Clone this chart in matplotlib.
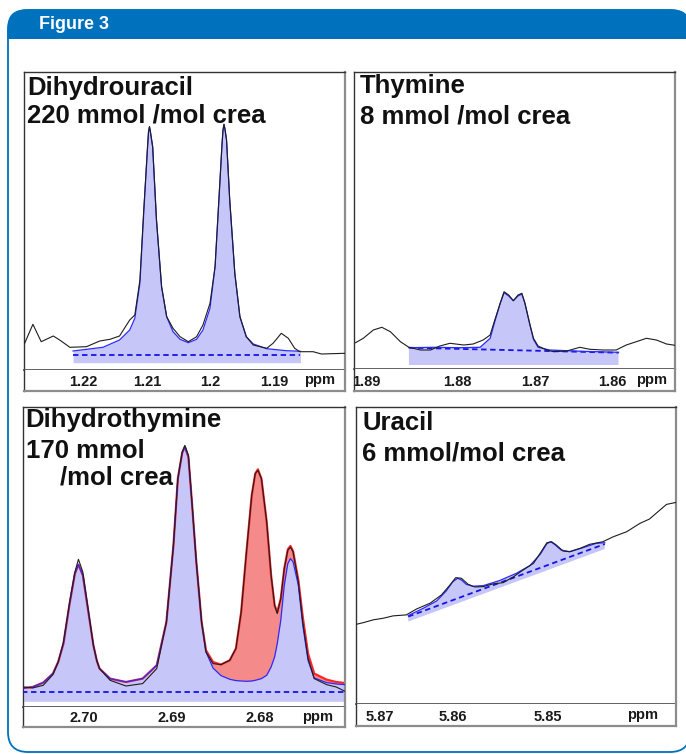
import numpy as np
import matplotlib
matplotlib.use("Agg")
import matplotlib.pyplot as plt
from matplotlib.patches import FancyBboxPatch, Rectangle
from matplotlib.transforms import ScaledTranslation

# ---------------- data (ppm, intensity a.u.) ----------------
# Panel 1: Dihydrouracil
p1_ppm = [1.2292, 1.2279, 1.2266, 1.2247, 1.2237, 1.2221, 1.2195, 1.2174, 1.2158, 1.2143,
          1.2127, 1.2119, 1.2111, 1.2105, 1.2099, 1.20975, 1.2096, 1.20945, 1.2091, 1.2085,
          1.2077, 1.2069, 1.2059, 1.2048, 1.2035, 1.2022, 1.2012, 1.2001, 1.1993, 1.1987,
          1.1982, 1.19805, 1.1979, 1.19775, 1.1975, 1.1970, 1.1962, 1.1954, 1.1944, 1.1933,
          1.1912, 1.1902, 1.1889, 1.1878, 1.1868, 1.1860, 1.1839, 1.1826, 1.1789]
p1_spec = [26.7, 45.7, 28.3, 34.0, 30.0, 22.7, 23.3, 29.0, 30.7, 34.0,
           50.0, 55.0, 90.0, 160.0, 223.3, 238.0, 243.3, 238.0, 223.3, 150.0,
           83.3, 53.3, 41.7, 33.3, 28.3, 33.3, 45.0, 66.7, 103.3, 170.0,
           226.7, 240.0, 245.7, 241.0, 230.0, 170.0, 96.7, 53.3, 33.3, 25.0,
           21.7, 26.7, 36.7, 31.7, 21.7, 18.3, 18.3, 16.0, 16.7]
p1_fit_ppm = [1.2216, 1.2169, 1.2143, 1.2127, 1.2119, 1.2111, 1.2105, 1.2099, 1.20975, 1.2096,
              1.20945, 1.2091, 1.2085, 1.2077, 1.2069, 1.2059, 1.2048, 1.2035, 1.2022, 1.2012,
              1.2001, 1.1993, 1.1987, 1.1982, 1.19805, 1.1979, 1.19775, 1.1975, 1.1970, 1.1962,
              1.1954, 1.1944, 1.1933, 1.1912, 1.1881, 1.1859]
p1_fit = [19.0, 22.7, 30.0, 40.0, 51.7, 86.7, 156.7, 223.3, 238.0, 243.3,
          238.0, 223.3, 150.0, 83.3, 53.3, 38.3, 30.7, 27.3, 30.7, 40.0,
          61.7, 103.3, 170.0, 226.7, 240.0, 245.7, 241.0, 230.0, 170.0, 96.7,
          53.3, 33.3, 26.0, 21.3, 19.3, 18.7]
p1_base_ppm = [1.2216, 1.1859]
p1_base = [15.0, 15.0]
p1_band_low = [7.3, 7.3]
p1_ticks = [1.22, 1.21, 1.20, 1.19]
p1_ticklabels = ["1.22", "1.21", "1.2", "1.19"]

# Panel 2: Thymine
p2_ppm = [1.8932, 1.8922, 1.8909, 1.8898, 1.8887, 1.8874, 1.8863, 1.8848, 1.8835, 1.8823,
          1.8810, 1.8792, 1.8780, 1.8767, 1.8758, 1.8752, 1.8745, 1.8740, 1.8734, 1.8728,
          1.8722, 1.8717, 1.8713, 1.8707, 1.8702, 1.8696, 1.8685, 1.8676, 1.8659, 1.8642,
          1.8629, 1.8612, 1.8595, 1.8582, 1.8569, 1.8556, 1.8543, 1.8530, 1.8519]
p2_spec = [26.3, 30.7, 39.0, 41.7, 37.3, 27.3, 21.7, 19.0, 19.0, 23.0,
           25.7, 24.0, 25.0, 29.0, 34.0, 49.0, 65.7, 77.3, 74.0, 68.3,
           74.0, 75.7, 65.7, 45.7, 30.7, 23.0, 19.0, 17.3, 18.0, 21.7,
           19.7, 19.0, 19.0, 24.0, 27.3, 30.7, 29.0, 25.0, 23.7]
p2_fit_ppm = [1.8863, 1.8831, 1.8797, 1.8771, 1.8758, 1.8752, 1.8745, 1.8740, 1.8734, 1.8728,
              1.8722, 1.8717, 1.8713, 1.8707, 1.8702, 1.8696, 1.8681, 1.8638, 1.8592]
p2_fit = [21.3, 21.7, 21.3, 21.7, 30.7, 47.3, 65.7, 76.3, 73.0, 68.3,
          73.0, 75.0, 65.7, 45.7, 29.7, 21.7, 19.0, 17.7, 16.7]
p2_base_ppm = [1.8863, 1.8592]
p2_base = [21.3, 16.3]
p2_band_low = [4.0, 4.0]
p2_ticks = [1.89, 1.88, 1.87, 1.86]
p2_ticklabels = ["1.89", "1.88", "1.87", "1.86"]

# Panel 3: Dihydrothymine
p3_ppm = [2.7068, 2.7058, 2.7046, 2.7035, 2.7029, 2.7023, 2.7016, 2.7010, 2.7006, 2.7001,
          2.6995, 2.6989, 2.6985, 2.6982, 2.6970, 2.6952, 2.6933, 2.6917, 2.6906, 2.6898,
          2.6893, 2.6888, 2.6885, 2.6881, 2.6877, 2.6872, 2.6866, 2.6861, 2.6853, 2.6844,
          2.6834, 2.6827, 2.6821, 2.6815, 2.6809, 2.6805, 2.6802, 2.6798, 2.6792, 2.6787,
          2.6783, 2.6780, 2.6776, 2.6772, 2.6768, 2.6765, 2.6762, 2.6756, 2.6751, 2.6745,
          2.6738, 2.6724, 2.6713, 2.6703]
p3_spec = [20.0, 19.0, 21.7, 32.4, 45.0, 65.0, 105.0, 135.0, 147.7, 135.0,
           98.4, 61.7, 46.0, 38.4, 26.7, 21.0, 23.4, 38.4, 85.0, 161.7,
           228.4, 255.0, 261.7, 251.7, 205.0, 145.0, 85.0, 55.0, 43.4, 42.4,
           46.7, 58.4, 95.0, 155.0, 211.7, 233.4, 236.7, 228.4, 185.0, 131.7,
           101.7, 93.4, 108.4, 138.4, 156.7, 160.0, 155.0, 125.0, 85.0, 48.4,
           28.4, 22.4, 20.0, 15.7]
p3_fit = [19.0, 20.0, 24.4, 33.4, 45.0, 63.4, 103.4, 133.4, 142.4, 131.7,
          96.7, 61.7, 46.0, 38.4, 28.4, 25.0, 28.4, 41.7, 85.0, 161.7,
          228.4, 254.4, 260.0, 250.0, 205.0, 145.0, 85.0, 55.0, 39.0, 31.4,
          27.7, 26.4, 26.0, 25.7, 26.0, 26.7, 27.4, 28.4, 31.7, 40.0,
          50.0, 63.4, 86.7, 121.7, 143.4, 148.4, 145.0, 121.7, 81.7, 46.7,
          29.0, 24.4, 23.0, 22.4]
p3_total = [19.0, 20.0, 24.4, 33.4, 45.0, 63.4, 103.4, 133.4, 142.4, 131.7,
            96.7, 61.7, 46.0, 38.4, 28.4, 25.0, 28.4, 41.7, 85.0, 161.7,
            228.4, 254.4, 260.0, 250.0, 205.0, 145.0, 85.0, 56.7, 45.0, 42.4,
            46.7, 58.4, 95.0, 155.0, 211.7, 233.4, 237.7, 228.4, 185.0, 131.7,
            101.7, 95.0, 108.4, 138.4, 157.7, 161.0, 155.7, 126.7, 90.0, 53.4,
            33.4, 27.4, 25.0, 24.0]
p3_base_ppm = [2.7070, 2.6700]
p3_base = [15.0, 15.0]
p3_band_low = [5.7, 5.7]
p3_ticks = [2.70, 2.69, 2.68]
p3_ticklabels = ["2.70", "2.69", "2.68"]

# Panel 4: Uracil
p4_ppm = [5.8701, 5.8694, 5.8684, 5.8673, 5.8663, 5.8649, 5.8638, 5.8624, 5.8612, 5.8603,
          5.8597, 5.8591, 5.8584, 5.8577, 5.8568, 5.8558, 5.8547, 5.8536, 5.8526, 5.8515,
          5.8507, 5.8501, 5.8496, 5.8491, 5.8484, 5.8477, 5.8466, 5.8456, 5.8442, 5.8431,
          5.8417, 5.8403, 5.8393, 5.8382, 5.8375, 5.8365]
p4_spec = [80.0, 81.6, 84.3, 86.0, 88.3, 89.3, 95.3, 101.0, 109.3, 119.3,
           126.6, 126.0, 120.0, 117.3, 117.6, 120.3, 121.6, 127.6, 134.3, 141.0,
           152.6, 161.6, 162.6, 159.3, 153.3, 152.6, 156.0, 160.0, 162.6, 167.6,
           172.6, 181.0, 185.3, 194.3, 200.0, 202.0]
p4_fit_ppm = [5.8647, 5.8631, 5.8617, 5.8607, 5.8600, 5.8595, 5.8591, 5.8586, 5.8579, 5.8568,
              5.8551, 5.8533, 5.8519, 5.8508, 5.8501, 5.8497, 5.8493, 5.8486, 5.8477, 5.8463,
              5.8449, 5.8440]
p4_fit = [88.6, 96.0, 103.3, 113.3, 122.6, 126.0, 124.3, 120.0, 118.0, 118.6,
          123.6, 131.0, 138.6, 150.0, 160.6, 162.6, 160.0, 154.3, 152.6, 156.6,
          161.0, 161.6]
p4_base_ppm = [5.8647, 5.8440]
p4_base = [87.6, 160.3]
p4_band_low = [82.6, 155.3]
p4_ticks = [5.87, 5.86, 5.85]
p4_ticklabels = ["5.87", "5.86", "5.85"]

# ---------------- style ----------------
W, H = 686, 754
BLUE_HDR = "#0071BC"
FILL = "#C6C6F8"
FITC = "#2a2aff"
DASHC = "#1414e6"
REDF = "#F58A8A"
REDL = "#FF2525"
SPEC = "#1e1e1e"
FONT = ["Liberation Sans", "DejaVu Sans"]
NARROW = ["Liberation Sans Narrow", "Liberation Sans", "DejaVu Sans"]

fig = plt.figure(figsize=(W / 100, H / 100), dpi=100)
fig.patch.set_facecolor("white")

# background frame
bg = fig.add_axes([0, 0, 1, 1], zorder=-5)
bg.set_xlim(0, W)
bg.set_ylim(H, 0)
bg.axis("off")
outline = FancyBboxPatch((8, 10), 682, 742, boxstyle="round,pad=0,rounding_size=20",
                         fc="white", ec=BLUE_HDR, lw=1.3, zorder=1)
bg.add_patch(outline)
hdr = FancyBboxPatch((7.5, 9.5), 683, 60, boxstyle="round,pad=0,rounding_size=18",
                     fc=BLUE_HDR, ec="none", zorder=2)
bg.add_patch(hdr)
clip = Rectangle((0, 0), W, 38.5, transform=bg.transData)
hdr.set_clip_path(clip)
bg.text(39, 24.5, "Figure 3", color="white", fontsize=13, fontweight="bold",
        va="center", ha="left", family=NARROW, zorder=3)


def frac(x0, y0, x1, y1):
    return [x0 / W, 1 - y1 / H, (x1 - x0) / W, (y1 - y0) / H]


def panel(box, strip_bottom, xlim, ylim, ticks, labels, ppm_x):
    x0, y0, x1, y1 = box
    ax = fig.add_axes(frac(x0, y0, x1, y1))
    ax.set_xlim(*xlim)
    ax.set_ylim(*ylim)
    ax.set_xticks([])
    ax.set_yticks([])
    for s in ["top", "left"]:
        ax.spines[s].set_color("#333333")
        ax.spines[s].set_linewidth(1.0)
    ax.spines["right"].set_color("#8c8c8c")
    ax.spines["right"].set_linewidth(1.6)
    ax.spines["bottom"].set_color("#555555")
    ax.spines["bottom"].set_linewidth(1.3)

    sx = fig.add_axes(frac(x0, y1, x1, strip_bottom))
    sx.set_xlim(*xlim)
    sx.set_ylim(0, 1)
    sx.set_yticks([])
    sx.set_xticks(ticks)
    sx.set_xticklabels(labels)
    sx.tick_params(axis="x", length=0, pad=-11.5, labelsize=10.5)
    for lab in sx.get_xticklabels():
        lab.set_fontweight("bold")
        lab.set_family(FONT)
        lab.set_color("#1a1a1a")
    sx.spines["top"].set_visible(False)
    sx.spines["left"].set_color("#333333")
    sx.spines["left"].set_linewidth(1.0)
    sx.spines["right"].set_color("#8c8c8c")
    sx.spines["right"].set_linewidth(1.6)
    sx.spines["bottom"].set_color("#8c8c8c")
    sx.spines["bottom"].set_linewidth(1.6)
    sx.text(ppm_x, 0.52, "ppm", transform=sx.transAxes, ha="center", va="center",
            fontsize=10.5, fontweight="bold", family=FONT, color="#1a1a1a")
    return ax, sx


def title(lines):
    for (x, y, s) in lines:
        fig.text(x / W, 1 - y / H, s, fontsize=18.5, fontweight="bold", family=FONT,
                 ha="left", va="baseline", color="#111111")


# ---- Panel 1
ax1, s1 = panel((24, 72, 345, 370), 391, (1.2293, 1.1789), (0, 298), p1_ticks, p1_ticklabels, 0.922)
ax1.fill_between(p1_fit_ppm, p1_fit, p1_band_low[0], color=FILL, lw=0, zorder=1)
ax1.plot(p1_base_ppm, p1_base, color=DASHC, lw=1.3, ls=(0, (3, 2)), zorder=3)
ax1.plot(p1_fit_ppm, p1_fit, color=FITC, lw=0.9, zorder=3)
ax1.plot(p1_ppm, p1_spec, color=SPEC, lw=0.8, zorder=4)
title([(27, 95, "Dihydrouracil"), (27, 122.7, "220 mmol /mol crea")])

# ---- Panel 2
ax2, s2 = panel((354, 72, 675, 369), 391, (1.8934, 1.8519), (0, 297), p2_ticks, p2_ticklabels, 0.928)
s2.get_xticklabels()[0].set_horizontalalignment("right")
ax2.fill(np.r_[p2_fit_ppm, p2_base_ppm[::-1]], np.r_[p2_fit, p2_band_low[::-1]], color=FILL, lw=0, zorder=1)
ax2.plot(p2_base_ppm, p2_base, color=DASHC, lw=1.3, ls=(0, (3, 2)), zorder=3)
ax2.plot(p2_fit_ppm, p2_fit, color=FITC, lw=0.9, zorder=3)
ax2.plot(p2_ppm, p2_spec, color=SPEC, lw=0.8, zorder=4)
title([(360, 93.3, "Thymine"), (360, 123.3, "8 mmol /mol crea")])

# ---- Panel 3
ax3, s3 = panel((23, 407, 345, 707), 727, (2.7069, 2.6703), (0, 300), p3_ticks, p3_ticklabels, 0.916)
ax3.fill_between(p3_ppm, p3_fit, p3_band_low[0], color=FILL, lw=0, zorder=1)
ax3.fill_between(p3_ppm, p3_fit, p3_total, where=np.array(p3_total) >= np.array(p3_fit),
                 color=REDF, lw=0, zorder=1)
ax3.plot(p3_ppm, p3_total, color=REDL, lw=1.6, zorder=2)
ax3.plot(p3_base_ppm, p3_base, color=DASHC, lw=1.3, ls=(0, (3, 2)), zorder=3)
ax3.plot(p3_ppm, p3_fit, color=FITC, lw=0.9, zorder=3)
ax3.plot(p3_ppm, p3_spec, color=SPEC, lw=0.8, zorder=4)
title([(25, 427.3, "Dihydrothymine"), (26, 458.3, "170 mmol"), (60, 484.3, "/mol crea")])

# ---- Panel 4
ax4, s4 = panel((356, 407, 676, 704), 726, (5.8702, 5.8365), (0, 297.6), p4_ticks, p4_ticklabels, 0.897)
lab0 = s4.get_xticklabels()[0]
lab0.set_horizontalalignment("left")
lab0.set_transform(lab0.get_transform() + ScaledTranslation(0.08, 0, fig.dpi_scale_trans))
ax4.fill(np.r_[p4_fit_ppm, p4_base_ppm[::-1]], np.r_[p4_fit, p4_band_low[::-1]], color=FILL, lw=0, zorder=1)
ax4.plot(p4_base_ppm, p4_base, color=DASHC, lw=1.3, ls=(0, (3, 2)), zorder=3)
ax4.plot(p4_fit_ppm, p4_fit, color=FITC, lw=0.9, zorder=3)
ax4.plot(p4_ppm, p4_spec, color=SPEC, lw=0.8, zorder=4)
title([(362, 430, "Uracil"), (362, 460.7, "6 mmol/mol crea")])

fig.savefig("out.png", dpi=100)
